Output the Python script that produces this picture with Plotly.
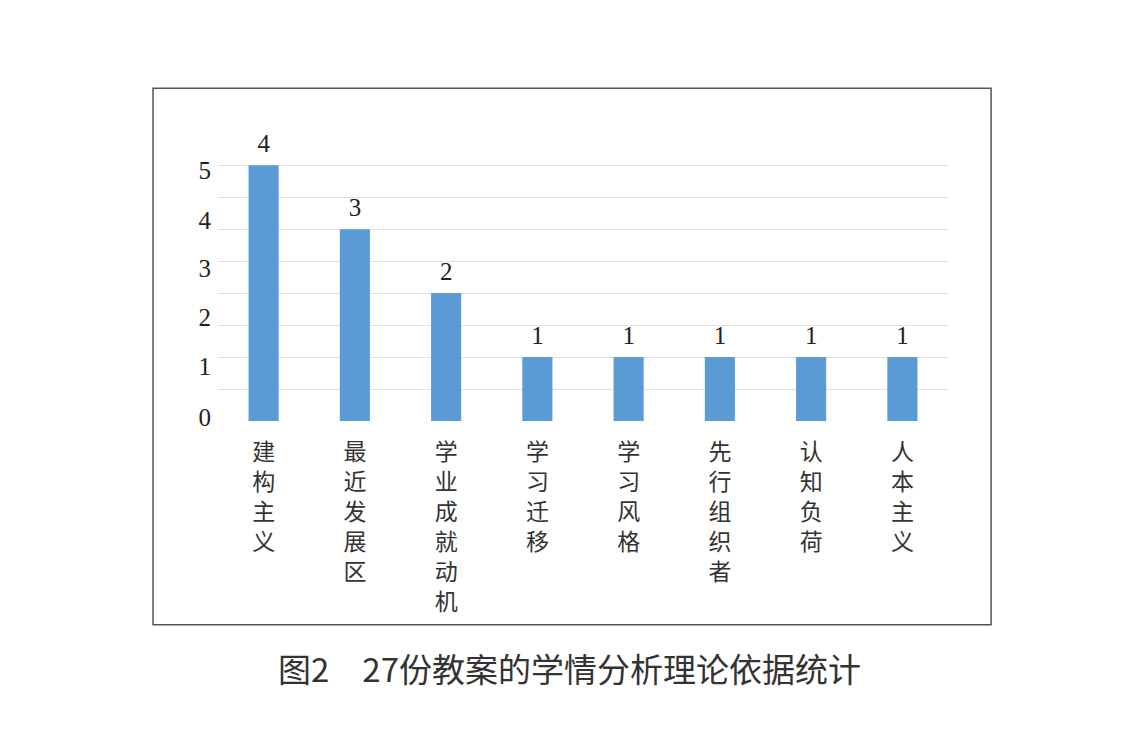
import plotly.graph_objects as go

categories = ["建构主义", "最近发展区", "学业成就动机", "学习迁移", "学习风格", "先行组织者", "认知负荷", "人本主义"]
values = [4, 3, 2, 1, 1, 1, 1, 1]
# y-axis labels as printed (they sit misaligned in the original figure)
ytick_text = ["0", "1", "2", "3", "4", "5"]
ytick_pos = [0.06, 0.86, 1.62, 2.39, 3.14, 3.92]
grid_vals = [0, 0.5, 1, 1.5, 2, 2.5, 3, 3.5, 4]
caption = "图2　27份教案的学情分析理论依据统计"

cat_labels = ["<br>".join(list(c)) for c in categories]

fig = go.Figure()
fig.add_trace(go.Bar(
    x=cat_labels, y=values,
    marker=dict(color="#5B9BD5", line=dict(width=0)),
    hoverinfo="x+y",
))
fig.add_trace(go.Scatter(
    x=cat_labels, y=values, mode="markers+text",
    text=[str(v) for v in values], textposition="top center",
    marker=dict(size=10, opacity=0),
    textfont=dict(family="Liberation Serif", size=25, color="#222"),
    cliponaxis=False, hoverinfo="skip",
))

fig.update_layout(
    width=1136, height=740,
    margin=dict(l=210, r=196, t=154, b=327),
    paper_bgcolor="white", plot_bgcolor="white",
    bargap=0.67,
    showlegend=False,
    xaxis=dict(
        range=[-0.5, len(categories) - 0.5],
        showgrid=False, zeroline=False, showline=False, ticks="",
        tickangle=0, ticklabelstandoff=15,
        tickfont=dict(family="Noto Sans CJK SC", size=23, color="#333"),
    ),
    yaxis=dict(
        range=[0, 4.05], tickmode="array", tickvals=ytick_pos, ticktext=ytick_text,
        showgrid=False, zeroline=False,
        showline=False, ticks="",
        tickfont=dict(family="Liberation Serif", size=25, color="#222"),
        ticklabelstandoff=6,
        minor=dict(tickmode="array", tickvals=grid_vals, showgrid=True,
                   gridcolor="#e0e0e0", gridwidth=1, ticks=""),
    ),
    shapes=[dict(type="rect", xref="paper", yref="paper",
                 x0=-0.089, x1=1.059, y0=-0.787, y1=1.285,
                 line=dict(color="#555", width=1.5), fillcolor="rgba(0,0,0,0)",
                 layer="below")],
    annotations=[dict(text=caption, xref="paper", yref="paper", x=0.482, y=-0.953,
                      showarrow=False, xanchor="center", yanchor="middle",
                      font=dict(family="Noto Sans CJK SC", size=33, color="#333"))],
)

fig.write_html("out.html")
